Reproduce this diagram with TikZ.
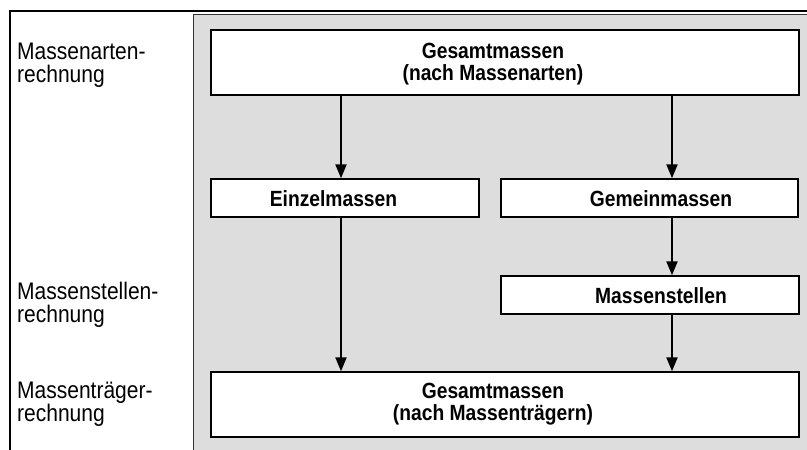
\documentclass[tikz,border=0pt]{standalone}
\usepackage{fontspec}
\setmainfont{Liberation Sans}[FakeStretch=0.875]
\usetikzlibrary{arrows.meta}
\definecolor{panelgray}{RGB}{221,221,221}
\tikzset{
  box/.style={draw=black, line width=1.4pt, fill=white, inner sep=0pt},
  boxtext/.style={inner sep=0pt, anchor=base, align=center,
    font=\fontsize{22pt}{22.5pt}\selectfont\bfseries},
  sidelabel/.style={inner sep=0pt, anchor=base west, align=left,
    font=\fontsize{24pt}{23.5pt}\selectfont},
  flow/.style={line width=2.2pt, -{Triangle[length=14pt,width=11pt]}}
}
\begin{document}
\begin{tikzpicture}[x=1pt,y=-1pt]
  \useasboundingbox (0,0) rectangle (807,450);
  % grey working area and outer frame
  \fill[panelgray] (193,14) rectangle (810,455);
  \draw[line width=1pt, black!80] (193,455) -- (193,14) -- (810,14);
  \draw[line width=2.5pt] (10,455) -- (10,11) -- (810,11);

  % side labels (anchored at the baseline of their last line)
  \node[sidelabel] (l1) at (17,82.5) {Massenarten-\\rechnung};
  \node[sidelabel] (l2) at (17,322.5) {Massenstellen-\\rechnung};
  \node[sidelabel] (l3) at (17,421.5) {Massenträger-\\rechnung};

  % boxes
  \node[box, minimum width=588pt, minimum height=65pt] (top) at (505,62.5) {};
  \node[box, minimum width=268pt, minimum height=38pt] (einz) at (345,198) {};
  \node[box, minimum width=297pt, minimum height=38pt] (gem) at (649.5,198) {};
  \node[box, minimum width=298pt, minimum height=38pt] (ms) at (650,295) {};
  \node[box, minimum width=588pt, minimum height=65pt] (bot) at (505,404.5) {};

  % box texts
  \node[boxtext] (ttop) at (493,80.5) {Gesamtmassen\\(nach Massenarten)};
  \node[boxtext] (teinz) at (333.5,206) {Einzelmassen};
  \node[boxtext] (tgem) at (661,206) {Gemeinmassen};
  \node[boxtext] (tms) at (661,303) {Massenstellen};
  \node[boxtext] (tbot) at (493,420.5) {Gesamtmassen\\(nach Massenträgern)};

  % flow arrows
  \coordinate (cl) at (341,0);
  \coordinate (cr) at (672,0);
  \draw[flow] (top.south -| cl) -- (einz.north -| cl);
  \draw[flow] (einz.south -| cl) -- (bot.north -| cl);
  \draw[flow] (top.south -| cr) -- (gem.north -| cr);
  \draw[flow] (gem.south -| cr) -- (ms.north -| cr);
  \draw[flow] (ms.south -| cr) -- (bot.north -| cr);
\end{tikzpicture}
\end{document}
